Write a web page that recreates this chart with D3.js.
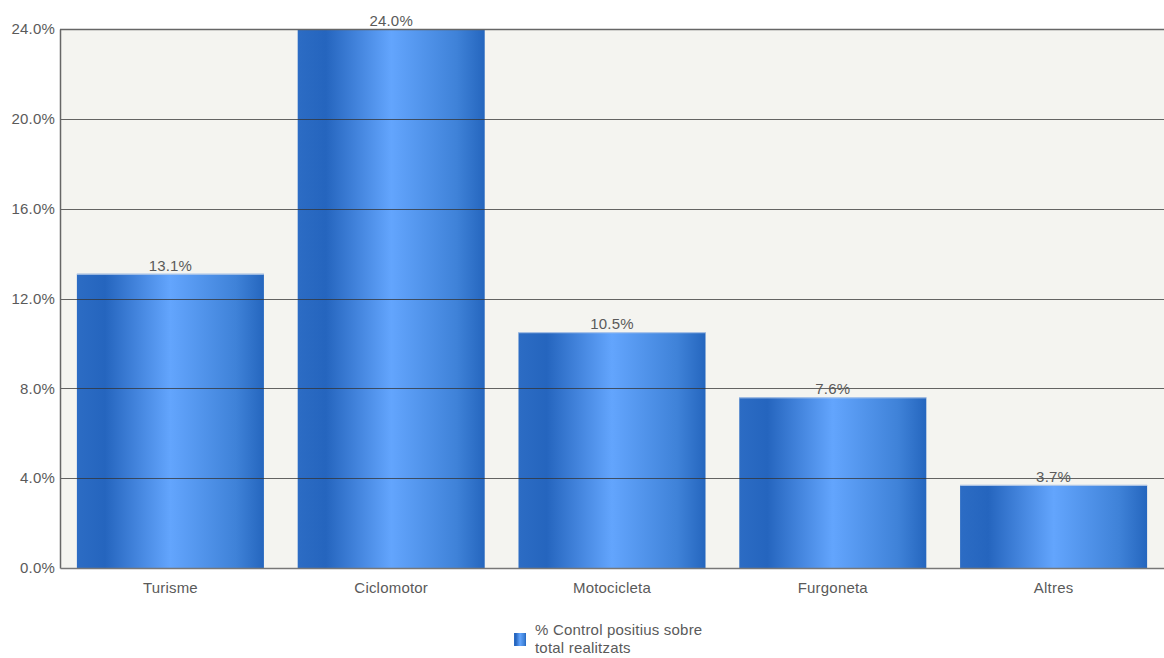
<!DOCTYPE html>
<html><head><meta charset="utf-8">
<script src="https://cdn.jsdelivr.net/npm/d3@7"></script>
<style>body{margin:0;background:#fff}svg{display:block}text{font-family:"Liberation Sans",Arial,sans-serif;letter-spacing:0.2px}</style>
</head><body><svg id="c" width="1164" height="658"></svg>
<script>
const categories = ["Turisme","Ciclomotor","Motocicleta","Furgoneta","Altres"];
const values = [13.1, 24.0, 10.5, 7.6, 3.7];
const tickValues = [0, 4, 8, 12, 16, 20, 24];
const seriesName = ["% Control positius sobre", "total realitzats"];

const W = 1164, H = 658;
const m = {left: 60, right: 0, top: 29, bottom: 90};
const FS = "15px";
const TC = "#5a5a5a";
const svg = d3.select("#c");
const x = d3.scaleBand().domain(categories).range([m.left, W - m.right]).paddingInner(0.153).paddingOuter(0.0765);
const y = d3.scaleLinear().domain([0, 24]).range([H - m.bottom, m.top]);

const defs = svg.append("defs");
const g = defs.append("linearGradient").attr("id","bg").attr("x1","0").attr("x2","1").attr("y1","0").attr("y2","0");
[[0,"#2c6cc4"],[0.15,"#2565be"],[0.5,"#63a5fd"],[0.85,"#3f82d8"],[1,"#2566be"]].forEach(([o,c])=>g.append("stop").attr("offset",o).attr("stop-color",c));

svg.append("rect").attr("x", m.left).attr("y", m.top).attr("width", W - m.left - m.right).attr("height", y(0) - m.top).attr("fill", "#f4f4f0");

svg.selectAll("rect.bar").data(values).join("rect").attr("class","bar")
  .attr("x", (d,i)=>x(categories[i])).attr("width", x.bandwidth())
  .attr("y", d=>y(d)).attr("height", d=>y(0)-y(d)).attr("fill","url(#bg)");
svg.selectAll("line.top").data(values).join("line").attr("class","top")
  .attr("x1",(d,i)=>x(categories[i])).attr("x2",(d,i)=>x(categories[i])+x.bandwidth())
  .attr("y1",d=>y(d)+0.5).attr("y2",d=>y(d)+0.5).attr("stroke","#b8cce8").attr("stroke-width",1);

// grid lines
svg.selectAll("line.grid").data(tickValues.filter(t=>t>0)).join("line").attr("class","grid")
  .attr("x1", m.left).attr("x2", W - m.right).attr("y1", d=>Math.round(y(d))+0.5).attr("y2", d=>Math.round(y(d))+0.5)
  .attr("stroke", d=>d===24?"#666":"#333").attr("stroke-opacity", d=>d===24?1:0.75).attr("stroke-width", d=>d===24?1.5:1);

// axes
const yAxis = d3.axisLeft(y).tickValues(tickValues).tickFormat(d=>d.toFixed(1)+"%").tickSize(0).tickPadding(5);
const ya = svg.append("g").attr("transform",`translate(${m.left},0)`).call(yAxis);
ya.select(".domain").attr("stroke","#666").attr("stroke-width",1.5);
ya.selectAll("text").attr("fill",TC).attr("font-size",FS).attr("font-family","'Liberation Sans',Arial,sans-serif");

const xAxis = d3.axisBottom(x).tickSize(0).tickPadding(14);
const xa = svg.append("g").attr("transform",`translate(0,${y(0)})`).call(xAxis);
xa.select(".domain").attr("stroke","#777").attr("stroke-width",1.5);
xa.selectAll("text").attr("fill",TC).attr("font-size",FS).attr("font-family","'Liberation Sans',Arial,sans-serif");

// value labels
svg.selectAll("text.val").data(values).join("text").attr("class","val")
  .attr("x",(d,i)=>x(categories[i])+x.bandwidth()/2).attr("y",d=>y(d)-3)
  .attr("text-anchor","middle").attr("fill",TC).attr("font-size",FS).text(d=>d.toFixed(1)+"%");

// legend
svg.append("rect").attr("x",514).attr("y",633).attr("width",12).attr("height",13).attr("fill","url(#bg)");
svg.selectAll("text.leg").data(seriesName).join("text").attr("class","leg")
  .attr("x",535).attr("y",(d,i)=>635+i*18).attr("fill",TC).attr("font-size",FS).text(d=>d);
</script></body></html>
